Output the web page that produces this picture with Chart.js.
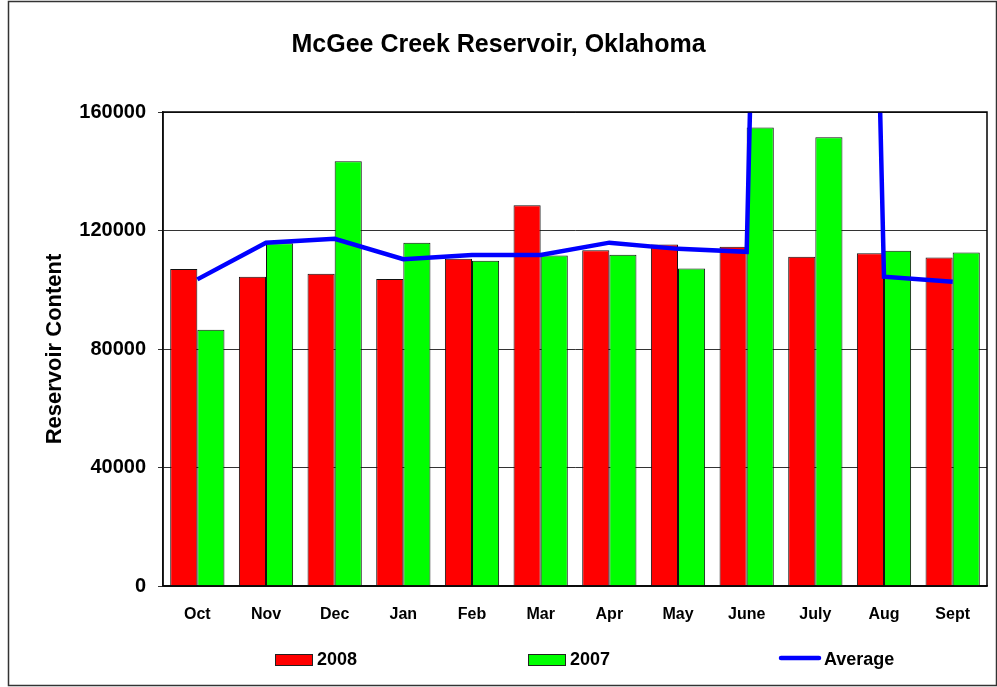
<!DOCTYPE html>
<html>
<head>
<meta charset="utf-8">
<script src="https://cdn.jsdelivr.net/npm/chart.js@4.4.1/dist/chart.umd.min.js"></script>
<style>
  html, body { margin: 0; padding: 0; background: #fff; }
  #wrap { width: 997px; height: 687px; }
</style>
</head>
<body>
<div id="wrap"><canvas id="reservoirChart" width="997" height="687"></canvas></div>
<script>
const months = ['Oct', 'Nov', 'Dec', 'Jan', 'Feb', 'Mar', 'Apr', 'May', 'June', 'July', 'Aug', 'Sept'];
const content2008 = [107000, 104400, 105400, 103600, 110500, 128500, 113300, 115300, 114500, 111100, 112300, 110900];
const content2007 = [86500, 115700, 143400, 115900, 109800, 111600, 111800, 107200, 154800, 151500, 113200, 112600];
const averageContent = [103500, 115900, 117200, 110300, 111700, 111700, 115900, 113800, 112800, 1100000, 104400, 102700];
const yTicks = [0, 40000, 80000, 120000, 160000];

const fontFamily = "'Liberation Sans', Arial, sans-serif";

// outer frame + box around the plot area
const framePlugin = {
  id: 'frame',
  beforeDraw(chart) {
    const ctx = chart.ctx;
    ctx.save();
    ctx.fillStyle = '#fff';
    ctx.fillRect(0, 0, chart.width, chart.height);
    ctx.strokeStyle = '#333';
    ctx.lineWidth = 1.5;
    ctx.strokeRect(8.5, 1.5, chart.width - 9, chart.height - 3);
    ctx.restore();
  },
  afterDraw(chart) {
    const { left, top, right, bottom } = chart.chartArea;
    const ctx = chart.ctx;
    ctx.save();
    ctx.strokeStyle = '#000';
    ctx.lineWidth = 1.5;
    ctx.strokeRect(left, top, right - left, bottom - top);
    ctx.restore();
  }
};

// legend spread under the plot like the original
const spreadLegend = {
  id: 'spreadLegend',
  afterDraw(chart) {
    const ctx = chart.ctx;
    const area = chart.chartArea;
    const y = area.bottom + 74;
    const starts = [112, 365, 616];
    const sets = [chart.data.datasets[1], chart.data.datasets[2], chart.data.datasets[0]];
    ctx.save();
    ctx.font = 'bold 18px ' + fontFamily;
    ctx.textBaseline = 'middle';
    ctx.fillStyle = '#000';
    sets.forEach((ds, i) => {
      const x = area.left + starts[i];
      let textX;
      if (ds.type === 'line') {
        ctx.strokeStyle = ds.borderColor;
        ctx.lineWidth = 4.5;
        ctx.lineCap = 'round';
        ctx.beginPath();
        ctx.moveTo(x + 2, y - 2);
        ctx.lineTo(x + 40, y - 2);
        ctx.stroke();
        textX = x + 45;
      } else {
        ctx.fillStyle = ds.backgroundColor;
        ctx.fillRect(x, y - 6, 37, 11);
        ctx.strokeStyle = '#222';
        ctx.lineWidth = 1;
        ctx.strokeRect(x + 0.5, y - 5.5, 37, 11);
        textX = x + 42;
      }
      ctx.fillStyle = '#000';
      ctx.fillText(ds.label, textX, y);
    });
    ctx.restore();
  }
};

const reservoirChart = new Chart(document.querySelector('#reservoirChart'), {
  data: {
    labels: months,
    datasets: [{
      type: 'line',
      label: 'Average',
      data: averageContent,
      borderColor: '#0000ff',
      borderWidth: 4.5,
      pointRadius: 0,
      tension: 0,
      order: 0
    },
    {
      type: 'bar',
      label: '2008',
      data: content2008,
      backgroundColor: '#ff0000',
      borderColor: '#111',
      borderWidth: 1,
      categoryPercentage: 0.79,
      barPercentage: 1.0,
      order: 1
    },
    {
      type: 'bar',
      label: '2007',
      data: content2007,
      backgroundColor: '#00ff00',
      borderColor: '#111',
      borderWidth: 1,
      categoryPercentage: 0.79,
      barPercentage: 1.0,
      order: 2
    }]
  },
  options: {
    responsive: false,
    animation: false,
    layout: {
      padding: { left: 10, right: 10, top: 2, bottom: 51 }
    },
    plugins: {
      legend: { display: false },
      tooltip: { enabled: false },
      title: {
        display: true,
        text: 'McGee Creek Reservoir, Oklahoma',
        color: '#000',
        font: { family: fontFamily, size: 25, weight: 'bold' },
        padding: { top: 28, bottom: 52 }
      }
    },
    scales: {
      x: {
        grid: { display: false, drawTicks: false },
        border: { color: '#333', width: 1.5 },
        ticks: {
          color: '#000',
          padding: 19,
          font: { family: fontFamily, size: 16, weight: 'bold' }
        },
        afterFit(scale) { scale.height = 50; }
      },
      y: {
        min: 0,
        max: 160000,
        afterBuildTicks(scale) { scale.ticks = yTicks.map(v => ({ value: v })); },
        grid: { color: '#333', lineWidth: 1, tickLength: 5 },
        border: { color: '#333', width: 1.5 },
        ticks: {
          color: '#000',
          padding: 12,
          font: { family: fontFamily, size: 20, weight: 'bold' },
          callback: value => String(value)
        },
        title: {
          display: true,
          text: 'Reservoir Content',
          color: '#000',
          font: { family: fontFamily, size: 22, weight: 'bold' },
          padding: { top: 32, bottom: 0 }
        },
        afterFit(scale) { scale.width = 153; }
      }
    }
  },
  plugins: [framePlugin, spreadLegend]
});
</script>
</body>
</html>
